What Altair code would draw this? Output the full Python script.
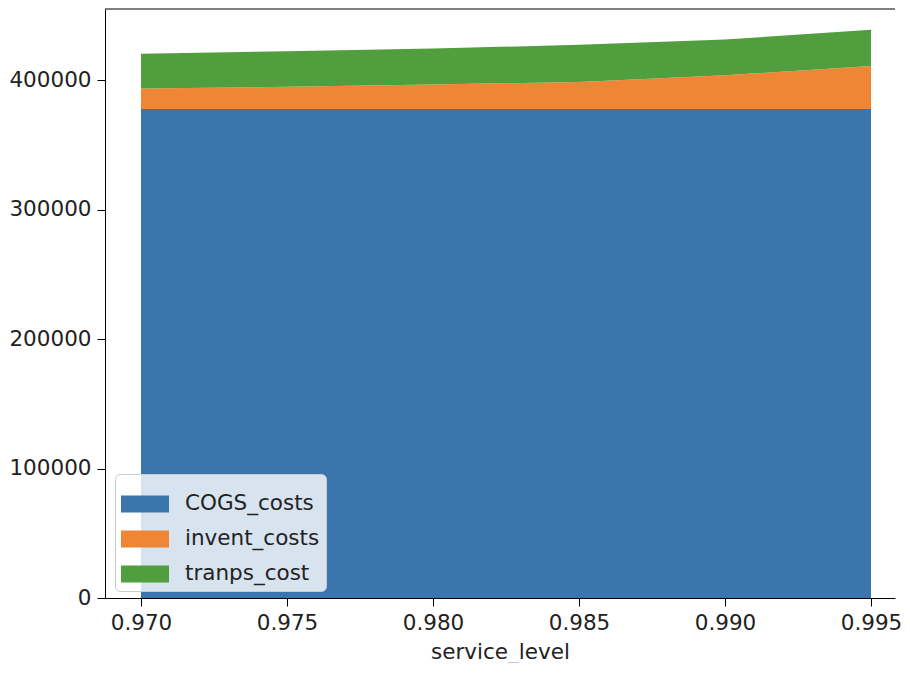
import altair as alt
import pandas as pd

service_level = [0.970, 0.975, 0.980, 0.985, 0.990, 0.995]
cogs_costs = [377800, 377800, 377800, 377800, 377800, 377800]
invent_costs = [15850, 17060, 18900, 20900, 26000, 33100]
tranps_cost = [26750, 27540, 27760, 28600, 27550, 28100]

series_names = ["COGS_costs", "invent_costs", "tranps_cost"]
series_values = [cogs_costs, invent_costs, tranps_cost]
colors = ["#3a75ae", "#ef8636", "#519e3e"]

rows = []
for i, (name, vals) in enumerate(zip(series_names, series_values)):
    for x, v in zip(service_level, vals):
        rows.append({"service_level": x, "series": name, "value": v, "idx": i})
df = pd.DataFrame(rows)

FONT = "DejaVu Sans"
FS = 21.5
YMAX = 455000

x_enc = alt.X(
    "service_level:Q",
    scale=alt.Scale(domain=[0.968767, 0.995822], nice=False, zero=False),
    axis=alt.Axis(
        values=service_level, format=".3f", title="service_level", grid=False,
        tickSize=8, labelPadding=6, titlePadding=8,
    ),
)
y_enc = alt.Y(
    "value:Q",
    stack="zero",
    scale=alt.Scale(domain=[0, YMAX], nice=False),
    axis=alt.Axis(values=[0, 100000, 200000, 300000, 400000], format="d",
                  title=None, grid=False, tickSize=8, labelPadding=6),
)

rect_path = "M-1,-0.354L1,-0.354L1,0.354L-1,0.354Z"

area = alt.Chart(df).mark_area(opacity=1).encode(
    x=x_enc,
    y=y_enc,
    color=alt.Color(
        "series:N",
        scale=alt.Scale(domain=series_names, range=colors),
        legend=alt.Legend(
            title=None, orient="none", legendX=10, legendY=465,
            symbolType=rect_path, symbolSize=2304, symbolStrokeWidth=0,
            symbolOpacity=1,
            labelFont=FONT, labelFontSize=FS, labelColor="#222",
            labelOffset=16, rowPadding=0,
            fillColor="rgba(255,255,255,0.8)", strokeColor="#cccccc",
            cornerRadius=5, padding=6,
        ),
    ),
    order=alt.Order("idx:Q"),
)

top_rule = alt.Chart(df).mark_rule(color="black", strokeWidth=1).encode(
    y=alt.datum(YMAX)
).transform_filter("datum.idx == 0 && datum.service_level == 0.97")

chart = alt.layer(area, top_rule).properties(
    width=790, height=589,
    padding={"left": 0, "top": 0, "right": 0, "bottom": 0},
).configure_view(stroke=None).configure_axis(
    labelFont=FONT, labelFontSize=FS, labelColor="#222",
    titleFont=FONT, titleFontSize=FS, titleColor="#222", titleFontWeight="normal",
    domainColor="black", tickColor="black", domainWidth=1, tickWidth=1,
)

chart.save("out.html", embed_options={"renderer": "svg", "actions": False})
